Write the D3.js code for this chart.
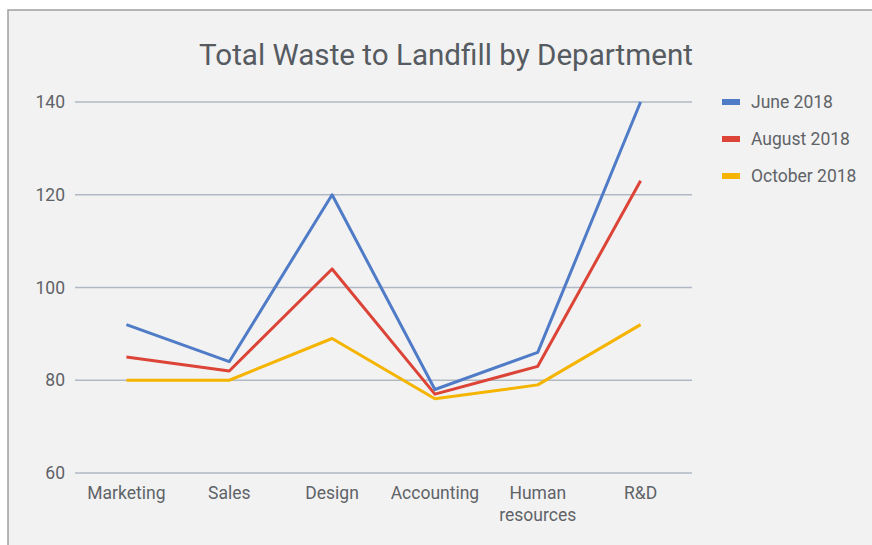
<!DOCTYPE html>
<html>
<head>
<meta charset="utf-8">
<script src="https://cdn.jsdelivr.net/npm/d3@7"></script>
<style>
  body { margin: 0; background: #fff; }
  svg { display: block; font-family: Roboto, sans-serif; }
</style>
</head>
<body>
<svg width="872" height="545"></svg>
<script>
// dữ liệu
const departments = ["Marketing", "Sales", "Design", "Accounting", "Human resources", "R&D"];
const seriesNames = ["June 2018", "August 2018", "October 2018"];
const june2018 = [92, 84, 120, 78, 86, 140];
const august2018 = [85, 82, 104, 77, 83, 123];
const october2018 = [80, 80, 89, 76, 79, 92];
const yTicks = [60, 80, 100, 120, 140];

const seriesValues = [june2018, august2018, october2018];
const colors = ["#4f7bc7", "#db4437", "#f4b400"];

const svg = d3.select("svg");
const margin = { top: 102, right: 180, bottom: 72, left: 75 };
const width = 872 - margin.left - margin.right;
const height = 545 - margin.top - margin.bottom;

// nền + khung
svg.append("rect")
  .attr("x", 8).attr("y", 10)
  .attr("width", 872).attr("height", 545)
  .attr("fill", "#f2f2f2")
  .attr("stroke", "#9e9e9e")
  .attr("stroke-width", 1.5);

const chart = svg.append("g").attr("transform", `translate(${margin.left},${margin.top})`);

const x = d3.scaleBand().domain(departments).range([0, width]);
const y = d3.scaleLinear().domain([60, 140]).range([height, 0]);

// lưới
chart.selectAll(".grid")
  .data(yTicks)
  .enter()
  .append("line")
  .attr("x1", 0).attr("x2", width)
  .attr("y1", d => y(d)).attr("y2", d => y(d))
  .attr("stroke", "#b0b9c3")
  .attr("stroke-width", 1.5);

// trục y
const yAxis = chart.append("g")
  .call(d3.axisLeft(y).tickValues(yTicks).tickSize(0).tickPadding(10));
yAxis.select(".domain").remove();
yAxis.selectAll("text")
  .attr("font-family", "Roboto, sans-serif")
  .attr("font-size", "17.5px")
  .attr("fill", "#5f6368");

// trục x
const xAxis = chart.append("g")
  .attr("transform", `translate(0,${height})`)
  .call(d3.axisBottom(x).tickSize(0).tickPadding(14));
xAxis.select(".domain").remove();
xAxis.selectAll("text")
  .attr("font-family", "Roboto, sans-serif")
  .attr("font-size", "17.5px")
  .attr("fill", "#5f6368")
  .each(function (d) {
    const words = d.split(" ");
    if (words.length > 1) {
      const t = d3.select(this).text(null);
      words.forEach((w, i) => {
        t.append("tspan")
          .attr("x", 0)
          .attr("dy", i === 0 ? "0.71em" : "1.25em")
          .text(w);
      });
    }
  });

// đường
const line = d3.line()
  .x((d, i) => x(departments[i]) + x.bandwidth() / 2)
  .y(d => y(d));

seriesValues.forEach((vals, i) => {
  chart.append("path")
    .datum(vals)
    .attr("fill", "none")
    .attr("stroke", colors[i])
    .attr("stroke-width", 3)
    .attr("stroke-linejoin", "round")
    .attr("d", line);
});

// chú thích
const legend = svg.append("g").attr("transform", "translate(722, 102)");
seriesNames.forEach((name, i) => {
  const g = legend.append("g").attr("transform", `translate(0, ${i * 37})`);
  g.append("rect")
    .attr("x", 0).attr("y", -3)
    .attr("width", 18).attr("height", 6)
    .attr("fill", colors[i]);
  g.append("text")
    .attr("x", 29).attr("y", 0)
    .attr("dy", "0.35em")
    .attr("font-size", "17.5px")
    .attr("fill", "#5f6368")
    .text(name);
});

// tiêu đề
svg.append("text")
  .attr("x", 446)
  .attr("y", 65)
  .attr("text-anchor", "middle")
  .attr("font-size", "29.6px")
  .attr("fill", "#555b61")
  .text("Total Waste to Landfill by Department");
</script>
</body>
</html>
